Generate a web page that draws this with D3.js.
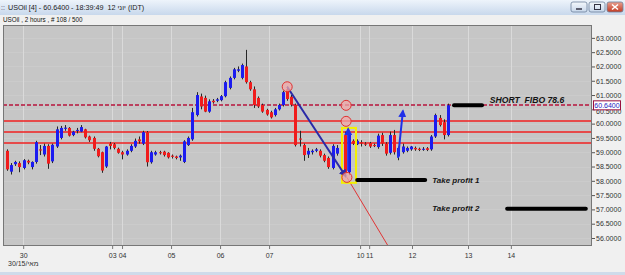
<!DOCTYPE html>
<html>
<head>
<meta charset="utf-8">
<script src="https://cdnjs.cloudflare.com/ajax/libs/d3/7.8.5/d3.min.js"></script>
<style>
body{margin:0;overflow:hidden;background:#f0f0f0}
svg{display:block}
text{font-family:"Liberation Sans",Arial,sans-serif}
</style>
</head>
<body>
<svg id="chart"></svg>
<script>
// candle data (2 hour bars)
var opens  = [59.05,58.32,58.58,58.62,58.45,58.70,58.48,58.66,59.10,58.92,59.22,58.68,59.20,59.50,59.82,59.85,59.60,59.75,59.72,59.80,
              59.55,59.50,59.12,59.00,58.50,59.30,59.28,59.12,59.00,58.92,59.05,59.20,59.45,59.30,59.70,58.65,58.92,59.00,59.02,58.98,
              58.88,58.85,58.82,58.66,59.25,59.45,60.30,60.95,60.90,60.42,60.80,60.80,60.82,60.96,61.25,61.60,61.85,61.60,62.00,61.45,
              61.20,60.90,60.65,60.48,60.40,60.30,60.50,60.65,61.20,60.94,60.66,59.48,59.25,58.92,59.00,59.05,59.05,58.90,58.80,58.45,
              58.95,59.35,59.60,58.30,59.40,59.28,59.35,59.30,59.32,59.25,59.18,59.60,59.30,58.98,59.60,58.85,59.00,59.05,59.10,59.15,
              59.12,59.10,59.14,59.10,59.55,60.20,60.05,59.60];
var highs  = [59.10,58.62,58.70,58.68,58.76,58.74,58.68,59.40,59.25,59.30,59.28,59.30,59.90,59.92,59.95,59.88,59.75,59.85,59.95,59.82,
              59.58,59.55,59.15,59.02,59.22,59.36,59.32,59.16,59.05,59.10,59.28,59.48,59.55,59.75,59.74,59.05,59.05,59.05,59.05,59.00,
              58.92,58.88,58.92,59.42,59.55,60.55,61.10,61.05,60.98,60.85,60.86,60.90,61.00,61.50,61.65,61.95,62.00,62.10,62.58,61.50,
              61.30,60.95,60.70,60.52,60.45,60.55,60.70,61.15,61.30,61.00,60.70,59.75,59.30,59.15,59.10,59.15,59.10,58.95,58.85,59.28,
              59.25,59.70,59.72,59.75,59.45,59.45,59.42,59.35,59.36,59.30,59.65,59.68,59.35,59.72,59.78,59.20,59.30,59.20,59.22,59.20,
              59.16,59.18,59.18,59.60,60.35,60.30,60.15,60.70];
var lows   = [58.35,58.22,58.52,58.30,58.40,58.58,58.40,58.60,58.90,58.85,58.42,58.62,59.15,59.45,59.75,59.55,59.56,59.66,59.70,59.48,
              59.36,59.05,58.82,58.28,58.45,59.10,59.10,58.95,58.75,58.88,59.00,59.15,59.30,59.25,58.50,58.60,58.88,58.92,58.85,58.78,
              58.78,58.75,58.70,58.62,59.22,59.40,60.25,60.50,60.40,60.38,60.70,60.75,60.78,60.92,61.20,61.55,61.80,61.55,61.40,61.15,
              60.55,60.55,60.38,60.28,60.18,60.25,60.46,60.60,60.80,60.60,59.20,59.20,58.70,58.80,58.92,59.00,58.82,58.65,58.42,58.40,
              58.88,59.20,58.12,58.20,59.25,59.25,59.20,59.22,59.15,59.18,59.12,59.22,58.88,58.92,58.92,58.72,58.95,59.00,59.05,59.05,
              59.04,59.05,59.04,59.05,59.50,59.90,59.45,59.55];
var closes = [58.40,58.55,58.66,58.48,58.72,58.64,58.66,59.35,59.06,59.22,58.60,59.26,59.80,59.85,59.86,59.58,59.72,59.78,59.88,59.52,
              59.42,59.12,58.86,58.36,59.20,59.22,59.15,58.98,58.92,59.05,59.22,59.40,59.38,59.70,58.65,59.00,59.00,58.98,58.90,58.82,
              58.84,58.80,58.88,59.38,59.50,60.40,61.00,60.60,60.42,60.78,60.75,60.85,60.96,61.45,61.60,61.90,61.90,62.05,61.45,61.20,
              60.65,60.60,60.42,60.32,60.22,60.50,60.65,61.10,60.86,60.66,59.25,59.44,58.90,59.05,59.05,59.10,58.88,58.70,58.48,59.22,
              59.15,59.30,58.25,59.65,59.30,59.40,59.30,59.28,59.20,59.22,59.58,59.30,58.95,59.60,59.00,59.15,59.20,59.15,59.20,59.10,
              59.08,59.12,59.08,59.55,60.30,59.95,59.60,60.64];

// day labels and where they sit, in bar index units
var dayLabels = ["30","03","04","05","06","07","10","11","12","13","14"];
var dayPos    = [3.9,25.5,27.9,39.8,51.7,63.6,85.7,87.9,98.3,111.9,122.3];
var priceTicks = d3.range(56, 63.01, 0.5);

// drawn studies
var fiboLevels = [60.08, 59.71, 59.33];
var shortLevel = 60.64;
var circleIdx   = [68, 82.3, 82.3, 82.5];
var circlePrice = [61.29, 60.64, 60.08, 58.12];
var trendLine  = [[68, 61.29], [82.2, 58.16]];
var extLine    = [[82.5, 58.12], [92.5, 55.72]];
var boxIdx     = [81.3, 84.7];
var boxPrice   = [57.93, 59.85];
var arrowsUp   = [[[82.8, 58.35], [82.8, 59.82]], [[94.9, 58.80], [96.1, 60.45]]];
var tpBars     = [{from:85, to:101.5, price:58.03}, {from:121.4, to:140.5, price:57.02}, {from:108.5, to:115.3, price:60.64}];
var notes      = [{i:117.2, price:60.83, text:"SHORT  FIBO 78.6", size:8.6}, {i:103.2, price:58.02, text:"Take profit 1", size:8}, {i:103.2, price:57.04, text:"Take profit 2", size:8}];
var lastPrice = 60.64;

var W = 625, H = 275;
var plot = {left:3, right:592, top:25, bottom:246};

var svg = d3.select("#chart").attr("width", W).attr("height", H);

var x = d3.scaleLinear().domain([-1, 142]).range([plot.left, plot.right]);
var y = d3.scaleLinear().domain([55.72, 63.45]).range([plot.bottom, plot.top]);

// writes a run of text pieces one after another, so hebrew words keep their place
var textRun = function(parent, x0, y0, size, fill, pieces)
{
    var cx = x0;
    pieces.forEach(function(p)
    {
        var t = parent.append("text").attr("x",cx).attr("y",y0).attr("font-size",size)
            .attr("fill",fill).style("white-space","pre").text(p);
        cx += t.node().getComputedTextLength();
    });
}

// window chrome
var defs = svg.append("defs");
var tg = defs.append("linearGradient").attr("id","titleGrad").attr("x1",0).attr("y1",0).attr("x2",0).attr("y2",1);
tg.append("stop").attr("offset","0%").attr("stop-color","#eef4fb");
tg.append("stop").attr("offset","100%").attr("stop-color","#c8d8ec");
var bg = defs.append("linearGradient").attr("id","btnGrad").attr("x1",0).attr("y1",0).attr("x2",0).attr("y2",1);
bg.append("stop").attr("offset","0%").attr("stop-color","#f4f8fc");
bg.append("stop").attr("offset","100%").attr("stop-color","#c6d6ea");
var cg = defs.append("linearGradient").attr("id","closeGrad").attr("x1",0).attr("y1",0).attr("x2",0).attr("y2",1);
cg.append("stop").attr("offset","0%").attr("stop-color","#e8a090");
cg.append("stop").attr("offset","100%").attr("stop-color","#c43a22");

svg.append("rect").attr("width",W).attr("height",H).attr("fill","#f0f0f0");
svg.append("rect").attr("width",W).attr("height",15).attr("fill","url(#titleGrad)");
svg.append("rect").attr("y",272).attr("width",W).attr("height",3).attr("fill","#cfdbea");

svg.append("text").attr("x",1).attr("y",9.5).attr("font-size",7).attr("fill","#445").text("::");
textRun(svg, 8, 10, 7.2, "#1b1b1b", ["USOil [4] - 60.6400 - 18:39:49  12 ", "יוני", " (IDT)"]);

var buttons = [{x:571,w:16,fill:"url(#btnGrad)"},{x:589,w:16,fill:"url(#btnGrad)"},{x:607,w:16,fill:"url(#closeGrad)"}];
svg.selectAll(".btn").data(buttons).enter().append("rect").classed("btn",true)
    .attr("x",function(d){return d.x;}).attr("y",2).attr("width",function(d){return d.w;}).attr("height",10)
    .attr("rx",2).attr("fill",function(d){return d.fill;}).attr("stroke","#6d819c").attr("stroke-width",0.8);
svg.append("line").attr("x1",576).attr("x2",582).attr("y1",9).attr("y2",9).attr("stroke","#334").attr("stroke-width",1.5);
svg.append("rect").attr("x",594.5).attr("y",4.5).attr("width",6).attr("height",5).attr("fill","none").attr("stroke","#334").attr("stroke-width",1);
svg.append("path").attr("d","M612,4.5L618,9.5M618,4.5L612,9.5").attr("stroke","#fff").attr("stroke-width",1.6);

svg.append("text").attr("x",3).attr("y",22).attr("font-size",6.3).attr("fill","#111")
    .text("USOil , 2 hours , # 108 / 500");

// plot area
svg.append("rect").attr("x",plot.left).attr("y",plot.top)
    .attr("width",plot.right-plot.left).attr("height",plot.bottom-plot.top)
    .attr("fill","#c6c6c6");

var g = svg.append("g");

// grid
g.selectAll(".hgrid").data(priceTicks).enter().append("line").classed("hgrid",true)
    .attr("x1",plot.left).attr("x2",plot.right)
    .attr("y1",function(d){return Math.round(y(d))+0.5;}).attr("y2",function(d){return Math.round(y(d))+0.5;})
    .attr("stroke","#cbcbcb").attr("stroke-width",1);
g.selectAll(".vgrid").data(dayPos).enter().append("line").classed("vgrid",true)
    .attr("x1",function(d){return Math.round(x(d))+0.5;}).attr("x2",function(d){return Math.round(x(d))+0.5;})
    .attr("y1",plot.top).attr("y2",plot.bottom)
    .attr("stroke","#dadada").attr("stroke-width",1);

// fibo levels, a bit heavier so the red survives at this size
g.selectAll(".fibo").data(fiboLevels).enter().append("line").classed("fibo",true)
    .attr("x1",plot.left).attr("x2",plot.right)
    .attr("y1",function(d){return Math.round(y(d));}).attr("y2",function(d){return Math.round(y(d));})
    .style("stroke","#f02020").style("stroke-width","1.6px");
// dashed 78.6 level
g.append("line").attr("x1",plot.left).attr("x2",plot.right)
    .attr("y1",Math.round(y(shortLevel))).attr("y2",Math.round(y(shortLevel)))
    .style("stroke","#b8143c").style("stroke-width","1.6px").style("stroke-dasharray","4,2");

// candles
var candles = opens.map(function(o,i){return {i:i,o:o,h:highs[i],l:lows[i],c:closes[i]};});
g.selectAll(".wick").data(candles).enter().append("line").classed("wick",true)
    .attr("x1",function(d){return Math.round(x(d.i))+0.5;}).attr("x2",function(d){return Math.round(x(d.i))+0.5;})
    .attr("y1",function(d){return y(d.h);}).attr("y2",function(d){return y(d.l);})
    .attr("stroke","#262626").attr("stroke-width",1);
g.selectAll(".body").data(candles).enter().append("rect").classed("body",true)
    .attr("x",function(d){return Math.round(x(d.i))-1;})
    .attr("y",function(d){return y(Math.max(d.o,d.c));})
    .attr("width",3)
    .attr("height",function(d){return Math.max(1, y(Math.min(d.o,d.c))-y(Math.max(d.o,d.c)));})
    .attr("fill",function(d){return d.c>=d.o ? "#1c1cf0" : "#f01c1c";});

// markers
defs.append("marker").attr("id","arrNavy").attr("viewBox","0 0 10 10").attr("refX",8).attr("refY",5)
    .attr("markerWidth",4).attr("markerHeight",4).attr("orient","auto").attr("markerUnits","strokeWidth")
    .append("path").attr("d","M0,0L10,5L0,10z").attr("fill","#2a2aa8");
defs.append("marker").attr("id","arrBlue").attr("viewBox","0 0 10 10").attr("refX",8).attr("refY",5)
    .attr("markerWidth",4).attr("markerHeight",4).attr("orient","auto").attr("markerUnits","strokeWidth")
    .append("path").attr("d","M0,0L10,5L0,10z").attr("fill","#1f2fe8");

var line = d3.line().x(function(d){return x(d[0]);}).y(function(d){return y(d[1]);});

g.append("path").attr("d",line(extLine)).attr("stroke","#e03434").attr("stroke-width",1).attr("fill","none");

g.append("rect").attr("x",x(boxIdx[0])).attr("y",y(boxPrice[1]))
    .attr("width",x(boxIdx[1])-x(boxIdx[0])).attr("height",y(boxPrice[0])-y(boxPrice[1]))
    .attr("fill","none").attr("stroke","#f4f000").attr("stroke-width",2);

g.append("path").attr("d",line(trendLine)).attr("stroke","#2a2aa8").attr("stroke-width",2)
    .attr("fill","none").attr("marker-end","url(#arrNavy)");

g.selectAll(".arrUp").data(arrowsUp).enter().append("path").classed("arrUp",true)
    .attr("d",function(d){return line(d);}).attr("stroke","#1f2fe8").attr("stroke-width",2)
    .attr("fill","none").attr("marker-end","url(#arrBlue)");

g.selectAll(".circ").data(circleIdx).enter().append("circle").classed("circ",true)
    .attr("cx",function(d){return x(d);}).attr("cy",function(d,i){return y(circlePrice[i]);})
    .attr("r",5).attr("fill","#f0a8a8").attr("fill-opacity",0.75)
    .attr("stroke","#e03030").attr("stroke-width",1);

g.selectAll(".tp").data(tpBars).enter().append("line").classed("tp",true)
    .attr("x1",function(d){return x(d.from);}).attr("x2",function(d){return x(d.to);})
    .attr("y1",function(d){return y(d.price);}).attr("y2",function(d){return y(d.price);})
    .attr("stroke","#000").attr("stroke-width",4).attr("stroke-linecap","round");

g.selectAll(".note").data(notes).enter().append("text").classed("note",true)
    .attr("x",function(d){return x(d.i);}).attr("y",function(d){return y(d.price);})
    .attr("dy","0.35em").attr("font-size",function(d){return d.size;}).attr("font-weight","bold").attr("font-style","italic")
    .attr("fill","#141414").style("white-space","pre")
    .text(function(d){return d.text;});

// frame
svg.append("rect").attr("x",plot.left+0.5).attr("y",plot.top+0.5)
    .attr("width",plot.right-plot.left-1).attr("height",plot.bottom-plot.top-1)
    .attr("fill","none").attr("stroke","#777").attr("stroke-width",1);

// price axis, the 60.5 label sits under the current price box as in the picture
var yAxis = d3.axisRight(y).tickValues(priceTicks).tickSize(3).tickPadding(1).tickFormat(d3.format(".4f"));
var ya = svg.append("g").attr("transform","translate("+plot.right+",0)").call(yAxis);
ya.select(".domain").remove();
ya.selectAll("text").attr("font-size",7).attr("fill","#333").attr("font-family","Liberation Sans, Arial, sans-serif")
    .attr("dy",function(d){return d==60.5 ? "0.62em" : "0.32em";});
ya.selectAll("line").attr("stroke","#555");

// current price box
var pb = svg.append("g").attr("transform","translate(593,"+y(lastPrice)+")");
pb.append("rect").attr("x",0.5).attr("y",-4.5).attr("width",27).attr("height",9)
    .attr("fill","#fff").attr("stroke","#9a1040").attr("stroke-width",1);
pb.append("text").attr("x",14).attr("y",0).attr("dy","0.35em").attr("text-anchor","middle")
    .attr("font-size",7).attr("fill","#1a1ac0").text(d3.format(".4f")(lastPrice));

// time axis
var xAxis = d3.axisBottom(x).tickValues(dayPos).tickSize(3).tickPadding(4)
    .tickFormat(function(d,i){return dayLabels[i];});
var xa = svg.append("g").attr("transform","translate(0,"+plot.bottom+")").call(xAxis);
xa.select(".domain").remove();
xa.selectAll("text").attr("font-size",7).attr("fill","#333").attr("font-family","Liberation Sans, Arial, sans-serif");
xa.selectAll("line").attr("stroke","#777");

textRun(svg, 8, 266, 7, "#333", ["30/15/", "מאי"]);
</script>
</body>
</html>
